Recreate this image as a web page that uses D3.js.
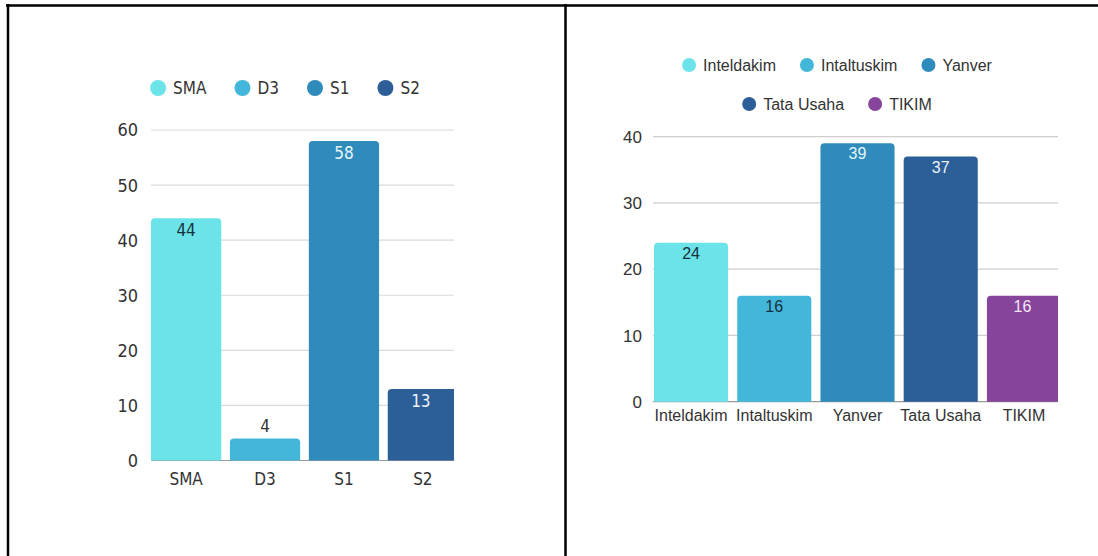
<!DOCTYPE html>
<html>
<head>
<meta charset="utf-8">
<script src="https://cdn.jsdelivr.net/npm/d3@7"></script>
<style>
  body { margin: 0; background: #fff; }
  svg { display: block; }
  .narrow { font-family: "DejaVu Sans Condensed", "Liberation Sans Narrow", sans-serif; }
  .plain { font-family: "Liberation Sans", Arial, sans-serif; }
</style>
</head>
<body>
<div id="chart"></div>
<script>
// left chart: education level
const eduCategories = ["SMA", "D3", "S1", "S2"];
const eduValues = [44, 4, 58, 13];
const eduTicks = [0, 10, 20, 30, 40, 50, 60];
const eduColors = ["#6ce3e8", "#43b7d9", "#2e8bbb", "#2c5f98"];
const eduLabelColors = ["#17303d", "#333333", "#e4f5fb", "#eef3fa"];

// right chart: unit
const unitCategories = ["Inteldakim", "Intaltuskim", "Yanver", "Tata Usaha", "TIKIM"];
const unitValues = [24, 16, 39, 37, 16];
const unitTicks = [0, 10, 20, 30, 40];
const unitColors = ["#6ce3e8", "#43b7d9", "#2e8bbb", "#2c5f98", "#86449a"];
const unitLabelColors = ["#17303d", "#17303d", "#e4f5fb", "#eef3fa", "#f3e6f5"];

const width = 1098, height = 556;

const svg = d3.select("#chart")
    .append("svg")
    .attr("width", width)
    .attr("height", height);

// frame
svg.append("line").attr("x1", 6).attr("x2", width).attr("y1", 5.5).attr("y2", 5.5)
    .attr("stroke", "#000").attr("stroke-width", 2.5);
svg.append("line").attr("x1", 8).attr("x2", 8).attr("y1", 4).attr("y2", height)
    .attr("stroke", "#000").attr("stroke-width", 2.5);
svg.append("line").attr("x1", 565.5).attr("x2", 565.5).attr("y1", 4).attr("y2", height)
    .attr("stroke", "#000").attr("stroke-width", 2.5);

// bar with rounded top corners
function barPath(x, y, w, h, r) {
    r = Math.min(r, h, w / 2);
    return `M${x},${y + h} L${x},${y + r} Q${x},${y} ${x + r},${y} L${x + w - r},${y} Q${x + w},${y} ${x + w},${y + r} L${x + w},${y + h} Z`;
}

function drawChart(cfg) {
    const g = svg.append("g").attr("class", cfg.fontClass);

    const x = d3.scaleBand()
        .domain(cfg.categories)
        .range(cfg.xRange)
        .paddingInner(0.11)
        .paddingOuter(0);

    const y = d3.scaleLinear()
        .domain([0, d3.max(cfg.ticks)])
        .range(cfg.yRange);

    // grid
    g.selectAll(".grid")
        .data(cfg.ticks)
        .join("line")
        .attr("x1", cfg.plotLeft)
        .attr("x2", cfg.plotRight)
        .attr("y1", d => y(d))
        .attr("y2", d => y(d))
        .attr("stroke", d => d === 0 ? "#9a9a9a" : cfg.gridColor)
        .attr("stroke-width", 1.2);

    // y tick labels
    g.selectAll(".ytick")
        .data(cfg.ticks)
        .join("text")
        .attr("x", cfg.tickX)
        .attr("y", d => y(d))
        .attr("dy", "0.36em")
        .attr("text-anchor", "end")
        .attr("fill", "#333")
        .attr("font-size", cfg.tickSize)
        .text(d => d);

    const clipId = "clip-" + cfg.id;
    svg.append("clipPath").attr("id", clipId)
        .append("rect")
        .attr("x", cfg.plotLeft - 2).attr("y", 0)
        .attr("width", cfg.plotRight - cfg.plotLeft + 2)
        .attr("height", height);

    // bars
    g.append("g").attr("clip-path", `url(#${clipId})`)
        .selectAll("path")
        .data(cfg.categories)
        .join("path")
        .attr("fill", (d, i) => cfg.colors[i])
        .attr("d", (d, i) => barPath(x(d), y(cfg.values[i]), x.bandwidth(), y(0) - y(cfg.values[i]), 4));

    // value labels
    g.selectAll(".val")
        .data(cfg.categories)
        .join("text")
        .attr("x", (d, i) => Math.min(x(d) + x.bandwidth() / 2, (x(d) + cfg.plotRight) / 2))
        .attr("y", (d, i) => {
            const top = y(cfg.values[i]);
            return (y(0) - top) < 25 ? top - 6 : top + cfg.valueOffset;
        })
        .attr("text-anchor", "middle")
        .attr("font-size", cfg.valueSize)
        .attr("fill", (d, i) => cfg.labelColors[i])
        .text((d, i) => cfg.values[i]);

    // x labels
    g.selectAll(".xlab")
        .data(cfg.categories)
        .join("text")
        .attr("x", d => x(d) + x.bandwidth() / 2)
        .attr("y", y(0) + cfg.xLabelOffset)
        .attr("text-anchor", "middle")
        .attr("font-size", cfg.xLabelSize)
        .attr("fill", "#333")
        .text(d => d);

    // legend rows, each centred on legendCenter
    cfg.legendRows.forEach((row, ri) => {
        const lg = g.append("g");
        let cursor = 0;
        row.forEach(name => {
            const i = cfg.categories.indexOf(name);
            const item = lg.append("g").attr("transform", `translate(${cursor},0)`);
            item.append("circle")
                .attr("cx", cfg.legendR)
                .attr("cy", 0)
                .attr("r", cfg.legendR)
                .attr("fill", cfg.colors[i]);
            const t = item.append("text")
                .attr("x", cfg.legendR * 2 + 7)
                .attr("y", 0)
                .attr("dy", "0.36em")
                .attr("font-size", cfg.legendSize)
                .attr("fill", "#333")
                .text(name);
            cursor += cfg.legendR * 2 + 7 + t.node().getComputedTextLength() + cfg.legendGap;
        });
        const total = cursor - cfg.legendGap;
        lg.attr("transform", `translate(${cfg.legendCenter - total / 2},${cfg.legendY[ri]})`);
    });
}

drawChart({
    id: "edu",
    fontClass: "narrow",
    categories: eduCategories,
    values: eduValues,
    ticks: eduTicks,
    colors: eduColors,
    labelColors: eduLabelColors,
    xRange: [151, 458],
    yRange: [460.5, 130],
    plotLeft: 151,
    plotRight: 454,
    gridColor: "#dadada",
    tickX: 138,
    tickSize: 18,
    valueSize: 17,
    valueOffset: 18,
    xLabelSize: 17,
    xLabelOffset: 24,
    legendRows: [eduCategories],
    legendY: [88],
    legendCenter: 285,
    legendR: 8,
    legendSize: 17,
    legendGap: 28
});

drawChart({
    id: "unit",
    fontClass: "plain",
    categories: unitCategories,
    values: unitValues,
    ticks: unitTicks,
    colors: unitColors,
    labelColors: unitLabelColors,
    xRange: [654, 1061],
    yRange: [401.7, 136.7],
    plotLeft: 653,
    plotRight: 1058,
    gridColor: "#cfcfcf",
    tickX: 642,
    tickSize: 17,
    valueSize: 16,
    valueOffset: 16,
    xLabelSize: 16,
    xLabelOffset: 19,
    legendRows: [unitCategories.slice(0, 3), unitCategories.slice(3)],
    legendY: [65, 104],
    legendCenter: 837,
    legendR: 7,
    legendSize: 16,
    legendGap: 24
});
</script>
</body>
</html>
